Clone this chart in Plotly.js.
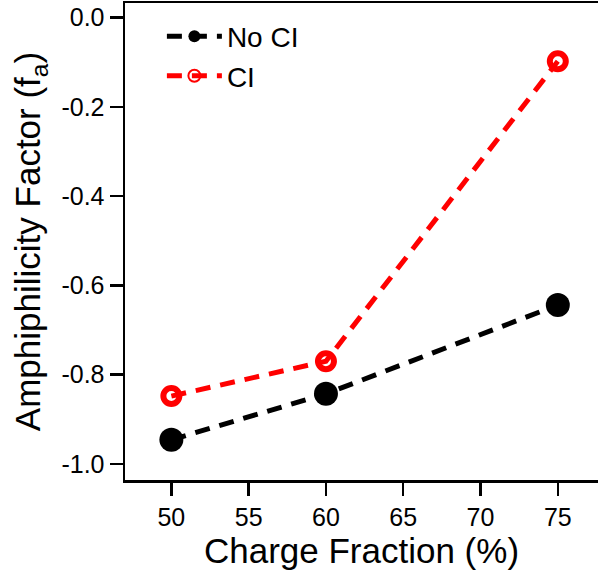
<!DOCTYPE html>
<html>
<head>
<meta charset="utf-8">
<script src="https://cdn.plot.ly/plotly-3.0.1.min.js"></script>
<style>
  html, body { margin: 0; padding: 0; background: #fff; }
  #chart { width: 598px; height: 573px; }
</style>
</head>
<body>
<div id="chart"></div>
<script>
// Charge fraction (%) on the x axis
const chargeFraction = [50, 60, 75];
// Amphiphilicity factor f_a for each condition
const faNoCI = [-0.946, -0.843, -0.644];
const faCI = [-0.848, -0.770, -0.098];
const seriesNames = ['No CI', 'CI'];
const xTicks = [50, 55, 60, 65, 70, 75];
const yTicks = [0, -0.2, -0.4, -0.6, -0.8, -1.0];
const yTickText = ['0.0', '-0.2', '-0.4', '-0.6', '-0.8', '-1.0'];

const font = 'Liberation Sans, Arial, Helvetica, sans-serif';

const traces = [
  {
    x: chargeFraction, y: faNoCI, name: seriesNames[0],
    type: 'scatter', mode: 'lines+markers',
    line: { color: '#000000', width: 5, dash: '15px,10px' },
    marker: { symbol: 'circle', size: 24, color: '#000000' }
  },
  {
    x: chargeFraction, y: faCI, name: seriesNames[1],
    type: 'scatter', mode: 'lines+markers',
    line: { color: '#ff0000', width: 5, dash: '15px,10px' },
    marker: { symbol: 'circle-open', size: 16, color: '#ff0000', line: { width: 6, color: '#ff0000' } }
  }
];

const layout = {
  width: 598, height: 573,
  margin: { l: 125, r: 0, t: 3, b: 93, pad: 0 },
  paper_bgcolor: '#ffffff', plot_bgcolor: '#ffffff',
  font: { family: font, color: '#000000' },
  showlegend: true,
  legend: {
    x: 0.078, y: 0.982, xanchor: 'left', yanchor: 'top',
    bgcolor: 'rgba(0,0,0,0)', borderwidth: 0,
    font: { family: font, size: 28, color: '#000000' },
    itemsizing: 'constant', itemwidth: 55,
    tracegroupgap: 0
  },
  xaxis: {
    range: [47.0, 77.6],
    tickvals: xTicks, ticktext: xTicks.map(String),
    ticks: 'outside', ticklen: 13, tickwidth: 2.5, tickcolor: '#000',
    showline: true, linewidth: 2.5, linecolor: '#000', mirror: true,
    showgrid: false, zeroline: false,
    tickfont: { family: font, size: 25 },
    title: { text: 'Charge Fraction (%)', font: { family: font, size: 35 }, standoff: 8 }
  },
  yaxis: {
    range: [-1.036, 0.0325],
    tickvals: yTicks, ticktext: yTickText,
    ticks: 'outside', ticklen: 13, tickwidth: 2.5, tickcolor: '#000',
    showline: true, linewidth: 2.5, linecolor: '#000', mirror: true,
    showgrid: false, zeroline: false,
    tickfont: { family: font, size: 25 },
    title: { text: 'Amphiphilicity Factor (f<sub>a</sub>)', font: { family: font, size: 35 }, standoff: 10 }
  }
};

Plotly.newPlot('chart', traces, layout, { displayModeBar: false, staticPlot: true });
</script>
</body>
</html>
